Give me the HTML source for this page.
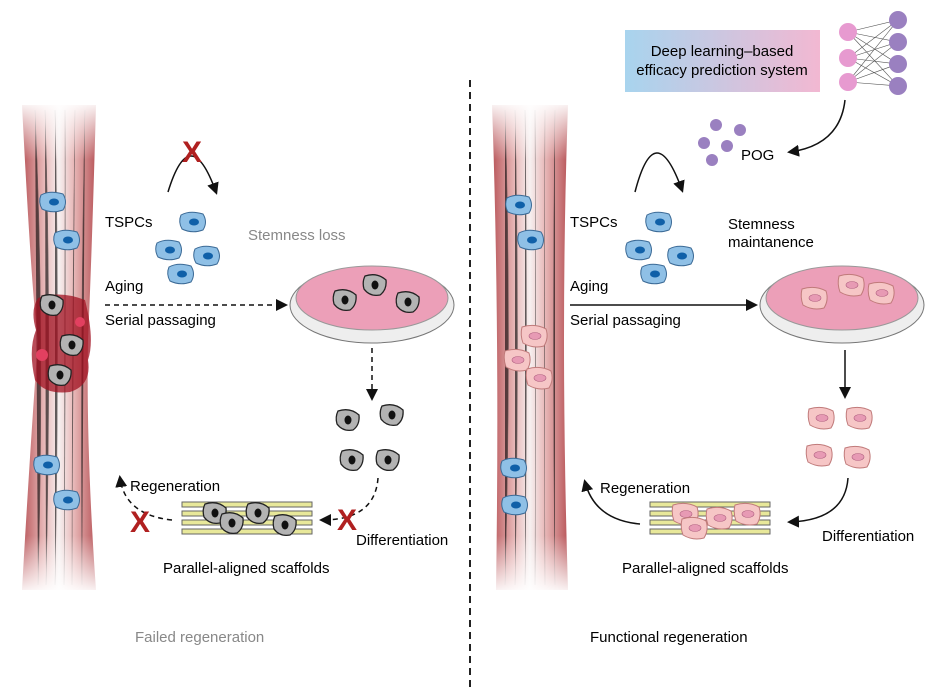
<!DOCTYPE html>
<html><head><meta charset="utf-8"><style>
body{margin:0;background:#fff;}
svg{display:block;font-family:"Liberation Sans",sans-serif;}
</style></head><body>
<svg width="929" height="689" viewBox="0 0 929 689" xmlns="http://www.w3.org/2000/svg">
<defs>
<linearGradient id="ten" x1="0" x2="1">
<stop offset="0" stop-color="#b8565a"/><stop offset="0.3" stop-color="#e8b8b8"/><stop offset="0.5" stop-color="#f6f0f0"/><stop offset="0.7" stop-color="#e8b8b8"/><stop offset="1" stop-color="#b8565a"/></linearGradient>
<linearGradient id="box" x1="0" x2="1"><stop offset="0" stop-color="#a8d4ee"/><stop offset="1" stop-color="#f2b8d2"/></linearGradient>
<linearGradient id="tv" x1="0" x2="0" y1="0" y2="1"><stop offset="0" stop-color="#fff" stop-opacity="1"/><stop offset="0.12" stop-color="#fff" stop-opacity="0"/><stop offset="0.88" stop-color="#fff" stop-opacity="0"/><stop offset="1" stop-color="#fff" stop-opacity="1"/></linearGradient>
<marker id="ah" markerWidth="8" markerHeight="8" refX="6" refY="4" orient="auto"><path d="M0,0 L8,4 L0,8 Z" fill="#111"/></marker>
<g id="bc"><path d="M-13,-7 Q-4,-12 9,-8 Q14,0 9,8 Q-2,12 -12,7 Q-16,0 -13,-7Z" fill="#8fc0e6" stroke="#3b6a96" stroke-width="1"/><ellipse cx="0" cy="0" rx="5" ry="3.5" fill="#1060a8"/></g>
<g id="pc"><path d="M-13,-9 Q0,-13 11,-7 Q14,2 9,10 Q-2,13 -12,7 Q-15,-1 -13,-9Z" fill="#f6c6c6" stroke="#c07a7a" stroke-width="1"/><ellipse cx="0" cy="0" rx="6" ry="3.5" fill="#e79ab4" stroke="#b06080" stroke-width=".6"/></g>
<g id="gc"><path d="M-10,-9 Q2,-13 11,-5 Q12,5 5,10 Q-5,12 -11,4 Q-13,-3 -10,-9Z" fill="#b3b3b3" stroke="#222" stroke-width="1.3"/><ellipse cx="0" cy="0" rx="3.5" ry="4.5" fill="#111"/></g>
</defs>

<line x1="470" y1="80" x2="470" y2="689" stroke="#222" stroke-width="2" stroke-dasharray="7,5"/>

<!-- left tendon -->
<path d="M22,105 Q32,300 38,340 Q30,450 22,590 L96,590 Q86,450 88,340 Q92,250 96,105Z" fill="url(#ten)"/>
<g stroke="#333" stroke-width=".5" opacity=".6">
<path d="M35,110 Q45,330 38,585"/><path d="M45,110 Q52,330 46,585"/><path d="M55,110 Q60,330 55,585"/><path d="M65,110 Q66,330 64,585"/><path d="M75,110 Q72,330 72,585"/><path d="M85,110 Q80,330 82,585"/></g>
<rect x="20" y="100" width="80" height="495" fill="url(#tv)"/>
<path d="M38,298 Q60,290 85,300 Q95,340 88,360 Q92,385 70,392 Q45,395 35,380 Q28,350 36,330 Q30,310 38,298Z" fill="#a01020" opacity=".75"/>
<use href="#gc" x="52" y="305"/><use href="#gc" x="72" y="345"/><use href="#gc" x="60" y="375"/>
<circle cx="42" cy="355" r="6" fill="#e24060"/><circle cx="80" cy="322" r="5" fill="#e24060"/>
<use href="#bc" x="54" y="202"/><use href="#bc" x="68" y="240"/><use href="#bc" x="48" y="465"/><use href="#bc" x="68" y="500"/>

<!-- right tendon -->
<path d="M492,105 Q500,330 496,590 L568,590 Q560,330 568,105Z" fill="url(#ten)"/>
<g stroke="#333" stroke-width=".5" opacity=".6">
<path d="M505,110 Q512,330 505,585"/><path d="M515,110 Q520,330 515,585"/><path d="M525,110 Q528,330 525,585"/><path d="M535,110 Q536,330 535,585"/><path d="M545,110 Q544,330 545,585"/><path d="M555,110 Q552,330 555,585"/></g>
<rect x="488" y="100" width="84" height="495" fill="url(#tv)"/>
<use href="#bc" x="520" y="205"/><use href="#bc" x="532" y="240"/><use href="#bc" x="515" y="468"/><use href="#bc" x="516" y="505"/>
<use href="#pc" x="535" y="336"/><use href="#pc" x="518" y="360"/><use href="#pc" x="540" y="378"/>

<!-- left TSPCs -->
<path d="M168,192 Q190,120 216,192" fill="none" stroke="#111" stroke-width="1.5" marker-end="url(#ah)"/>
<text x="182" y="162" font-size="30" font-weight="bold" fill="#b02020">X</text>
<use href="#bc" x="194" y="222"/><use href="#bc" x="170" y="250"/><use href="#bc" x="208" y="256"/><use href="#bc" x="182" y="274"/>
<text x="105" y="227" font-size="15">TSPCs</text>
<text x="248" y="240" font-size="15" fill="#888">Stemness loss</text>
<text x="105" y="291" font-size="15">Aging</text>
<text x="105" y="325" font-size="15">Serial passaging</text>
<line x1="105" y1="305" x2="285" y2="305" stroke="#111" stroke-width="1.5" stroke-dasharray="5,4" marker-end="url(#ah)"/>
<ellipse cx="372" cy="305" rx="82" ry="38" fill="#eee" stroke="#777"/>
<ellipse cx="372" cy="298" rx="76" ry="32" fill="#ec9fb8" stroke="#999"/>
<use href="#gc" x="375" y="285"/><use href="#gc" x="345" y="300"/><use href="#gc" x="408" y="302"/>
<line x1="372" y1="348" x2="372" y2="398" stroke="#111" stroke-width="1.5" stroke-dasharray="5,4" marker-end="url(#ah)"/>
<use href="#gc" x="348" y="420"/><use href="#gc" x="392" y="415"/><use href="#gc" x="352" y="460"/><use href="#gc" x="388" y="460"/>
<path d="M378,478 Q375,520 322,520" fill="none" stroke="#111" stroke-width="1.5" stroke-dasharray="5,4" marker-end="url(#ah)"/>
<text x="337" y="530" font-size="30" font-weight="bold" fill="#b02020">X</text>
<text x="356" y="545" font-size="15">Differentiation</text>
<g stroke="#666" stroke-width="1" fill="#e8e89a">
<rect x="182" y="502" width="130" height="5"/><rect x="182" y="511" width="130" height="5"/><rect x="182" y="520" width="130" height="5"/><rect x="182" y="529" width="130" height="5"/></g>
<use href="#gc" x="215" y="513"/><use href="#gc" x="258" y="513"/><use href="#gc" x="232" y="523"/><use href="#gc" x="285" y="525"/>
<path d="M172,520 Q125,515 120,478" fill="none" stroke="#111" stroke-width="1.5" stroke-dasharray="5,4" marker-end="url(#ah)"/>
<text x="130" y="532" font-size="30" font-weight="bold" fill="#b02020">X</text>
<text x="130" y="491" font-size="15">Regeneration</text>
<text x="163" y="573" font-size="15">Parallel-aligned scaffolds</text>
<text x="135" y="642" font-size="15" fill="#888">Failed regeneration</text>

<!-- right top box -->
<rect x="625" y="30" width="195" height="62" fill="url(#box)"/>
<text x="722" y="56" font-size="15" text-anchor="middle">Deep learning–based</text>
<text x="722" y="75" font-size="15" text-anchor="middle">efficacy prediction system</text>
<g stroke="#555" stroke-width=".6">
<line x1="848" y1="32" x2="898" y2="20"/><line x1="848" y1="32" x2="898" y2="42"/><line x1="848" y1="32" x2="898" y2="64"/><line x1="848" y1="32" x2="898" y2="86"/>
<line x1="848" y1="58" x2="898" y2="20"/><line x1="848" y1="58" x2="898" y2="42"/><line x1="848" y1="58" x2="898" y2="64"/><line x1="848" y1="58" x2="898" y2="86"/>
<line x1="848" y1="82" x2="898" y2="20"/><line x1="848" y1="82" x2="898" y2="42"/><line x1="848" y1="82" x2="898" y2="64"/><line x1="848" y1="82" x2="898" y2="86"/></g>
<circle cx="848" cy="32" r="9" fill="#e79ad0"/><circle cx="848" cy="58" r="9" fill="#e79ad0"/><circle cx="848" cy="82" r="9" fill="#e79ad0"/>
<circle cx="898" cy="20" r="9" fill="#9a80c0"/><circle cx="898" cy="42" r="9" fill="#9a80c0"/><circle cx="898" cy="64" r="9" fill="#9a80c0"/><circle cx="898" cy="86" r="9" fill="#9a80c0"/>
<path d="M845,100 Q840,145 790,152" fill="none" stroke="#111" stroke-width="1.5" marker-end="url(#ah)"/>
<g fill="#9a80c0"><circle cx="716" cy="125" r="6"/><circle cx="740" cy="130" r="6"/><circle cx="704" cy="143" r="6"/><circle cx="727" cy="146" r="6"/><circle cx="712" cy="160" r="6"/></g>
<text x="741" y="160" font-size="15">POG</text>

<path d="M635,192 Q655,115 682,190" fill="none" stroke="#111" stroke-width="1.5" marker-end="url(#ah)"/>
<use href="#bc" x="660" y="222"/><use href="#bc" x="640" y="250"/><use href="#bc" x="682" y="256"/><use href="#bc" x="655" y="274"/>
<text x="570" y="227" font-size="15">TSPCs</text>
<text x="728" y="229" font-size="15">Stemness</text>
<text x="728" y="247" font-size="15">maintanence</text>
<text x="570" y="291" font-size="15">Aging</text>
<text x="570" y="325" font-size="15">Serial passaging</text>
<line x1="570" y1="305" x2="755" y2="305" stroke="#111" stroke-width="1.5" marker-end="url(#ah)"/>
<ellipse cx="842" cy="305" rx="82" ry="38" fill="#eee" stroke="#777"/>
<ellipse cx="842" cy="298" rx="76" ry="32" fill="#ec9fb8" stroke="#999"/>
<use href="#pc" x="852" y="285"/><use href="#pc" x="815" y="298"/><use href="#pc" x="882" y="293"/>
<line x1="845" y1="350" x2="845" y2="396" stroke="#111" stroke-width="1.5" marker-end="url(#ah)"/>
<use href="#pc" x="822" y="418"/><use href="#pc" x="860" y="418"/><use href="#pc" x="820" y="455"/><use href="#pc" x="858" y="457"/>
<path d="M848,478 Q845,520 790,522" fill="none" stroke="#111" stroke-width="1.5" marker-end="url(#ah)"/>
<text x="822" y="541" font-size="15">Differentiation</text>
<g stroke="#666" stroke-width="1" fill="#e8e89a">
<rect x="650" y="502" width="120" height="5"/><rect x="650" y="511" width="120" height="5"/><rect x="650" y="520" width="120" height="5"/><rect x="650" y="529" width="120" height="5"/></g>
<use href="#pc" x="686" y="514"/><use href="#pc" x="720" y="518"/><use href="#pc" x="748" y="514"/><use href="#pc" x="695" y="528"/>
<path d="M640,524 Q595,520 585,482" fill="none" stroke="#111" stroke-width="1.5" marker-end="url(#ah)"/>
<text x="600" y="493" font-size="15">Regeneration</text>
<text x="622" y="573" font-size="15">Parallel-aligned scaffolds</text>
<text x="590" y="642" font-size="15">Functional regeneration</text>
</svg>
</body></html>
